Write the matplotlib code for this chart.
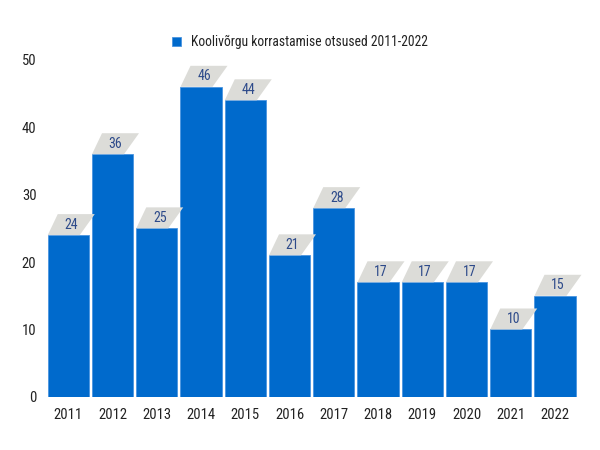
import matplotlib.pyplot as plt
from matplotlib.patches import Polygon

plt.rcParams['font.family'] = ['Roboto Condensed', 'Roboto', 'DejaVu Sans']

years = ['2011', '2012', '2013', '2014', '2015', '2016', '2017', '2018', '2019', '2020', '2021', '2022']
values = [24, 36, 25, 46, 44, 21, 28, 17, 17, 17, 10, 15]
series_name = 'Koolivõrgu korrastamise otsused 2011-2022'

bar_color = '#006ACC'
tag_color = '#DCDCD8'
tag_text = '#2D4A8A'

fig = plt.figure(figsize=(6, 4.5), dpi=100)
ax = fig.add_axes([0.077, 0.118, 0.885, 0.749])

x = list(range(len(years)))
bw = 0.93
ax.bar(x, values, width=bw, color=bar_color, edgecolor='#4A94E0', linewidth=0.6,
       label=series_name, zorder=2)

ax.set_xlim(-0.5, len(years) - 0.5)
ax.set_ylim(0, 50)

# pixel -> data scale for the label tags
px_x = (len(years)) / 531.0
px_y = 50 / 337.0
for i, v in zip(x, values):
    x0 = i - bw / 2
    pts = [(x0, v), (x0 + 32 * px_x, v),
           (x0 + 47 * px_x, v + 21 * px_y), (x0 + 10 * px_x, v + 21 * px_y)]
    ax.add_patch(Polygon(pts, closed=True, facecolor=tag_color, edgecolor='none',
                         clip_on=False, zorder=3))
    ax.text(x0 + 23.5 * px_x, v + 10.5 * px_y, str(v), ha='center', va='center',
            fontsize=10, color=tag_text, zorder=4, clip_on=False)

ax.set_xticks(x)
ax.set_xticklabels(years)
ax.set_yticks(range(0, 51, 10))
ax.tick_params(length=0, labelsize=10.5, colors='#222222')
ax.tick_params(axis='x', pad=8)
ax.tick_params(axis='y', pad=7)
for s in ax.spines.values():
    s.set_visible(False)

leg = fig.legend(loc='upper center', bbox_to_anchor=(0.5, 0.95), frameon=False,
                 fontsize=9.8, handlelength=0.65, handleheight=0.65, handletextpad=0.7)
for t in leg.get_texts():
    t.set_color('#222222')

fig.savefig('out.png', dpi=100)
